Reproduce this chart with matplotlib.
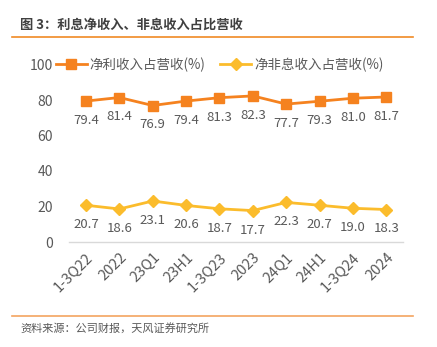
import matplotlib
matplotlib.use("Agg")
import matplotlib.pyplot as plt
from matplotlib.lines import Line2D

plt.rcParams['font.family'] = ['Noto Sans CJK SC', 'DejaVu Sans']

categories = ["1-3Q22", "2022", "23Q1", "23H1", "1-3Q23", "2023", "24Q1", "24H1", "1-3Q24", "2024"]
net_interest = [79.4, 81.4, 76.9, 79.4, 81.3, 82.3, 77.7, 79.3, 81.0, 81.7]
non_interest = [20.7, 18.6, 23.1, 20.6, 18.7, 17.7, 22.3, 20.7, 19.0, 18.3]
series_names = ["净利收入占营收(%)", "净非息收入占营收(%)"]
title = "图 3：利息净收入、非息收入占比营收"
source = "资料来源：公司财报，天风证券研究所"

W, H = 437, 347
fig = plt.figure(figsize=(W/100, H/100), dpi=100)
ax = fig.add_axes([69.3/W, 1-242/H, (403-69.3)/W, (242-64.5)/H])

orange = '#F5821F'
yellow = '#FBBC2C'
txt = '#595959'

x = list(range(len(categories)))
l1, = ax.plot(x, net_interest, color=orange, lw=2, marker='s', ms=7, label=series_names[0], clip_on=False)
l2, = ax.plot(x, non_interest, color=yellow, lw=2, marker='D', ms=6, label=series_names[1], clip_on=False)

for xi, v in zip(x, net_interest):
    ax.annotate(f"{v:.1f}", (xi, v), xytext=(0, -14), textcoords='offset points',
                ha='center', va='center', fontsize=9.5, color=txt)
for xi, v in zip(x, non_interest):
    ax.annotate(f"{v:.1f}", (xi, v), xytext=(0, -14), textcoords='offset points',
                ha='center', va='center', fontsize=9.5, color=txt)

ax.set_xlim(-0.5, len(categories)-0.5)
ax.set_ylim(0, 100)
ax.set_yticks([0, 20, 40, 60, 80, 100])
ax.tick_params(axis='y', length=0, labelsize=10, labelcolor=txt, pad=12)
ax.set_xticks(x)
ax.set_xticklabels(categories, rotation=45, ha='right', rotation_mode='anchor', fontsize=10.5, color=txt)
ax.tick_params(axis='x', length=0, pad=6)
for s in ['top', 'right', 'left']:
    ax.spines[s].set_visible(False)
ax.spines['bottom'].set_color('#D9D9D9')
ax.spines['bottom'].set_linewidth(1)

leg = ax.legend(handles=[l1, l2], loc='upper left', bbox_to_anchor=(-13.3/333.7, 1.04), ncol=2,
                frameon=False, fontsize=9.7, handlelength=2.3, columnspacing=1.1,
                handletextpad=0.2, borderaxespad=0, borderpad=0)
for t in leg.get_texts():
    t.set_color(txt)

fig.text(20/W, 1-25/H, title, fontsize=9.5, fontweight='semibold', color='#404040', va='center', ha='left')
fig.add_artist(Line2D([12/W, 413/W], [1-37/H, 1-37/H], color='#F08A24', lw=1.2))
fig.add_artist(Line2D([12/W, 413/W], [1-316/H, 1-316/H], color='#F4A460', lw=1.2))
fig.text(20/W, 1-328/H, source, fontsize=8, color='#595959', va='center', ha='left')

fig.savefig('out.png', dpi=100)
